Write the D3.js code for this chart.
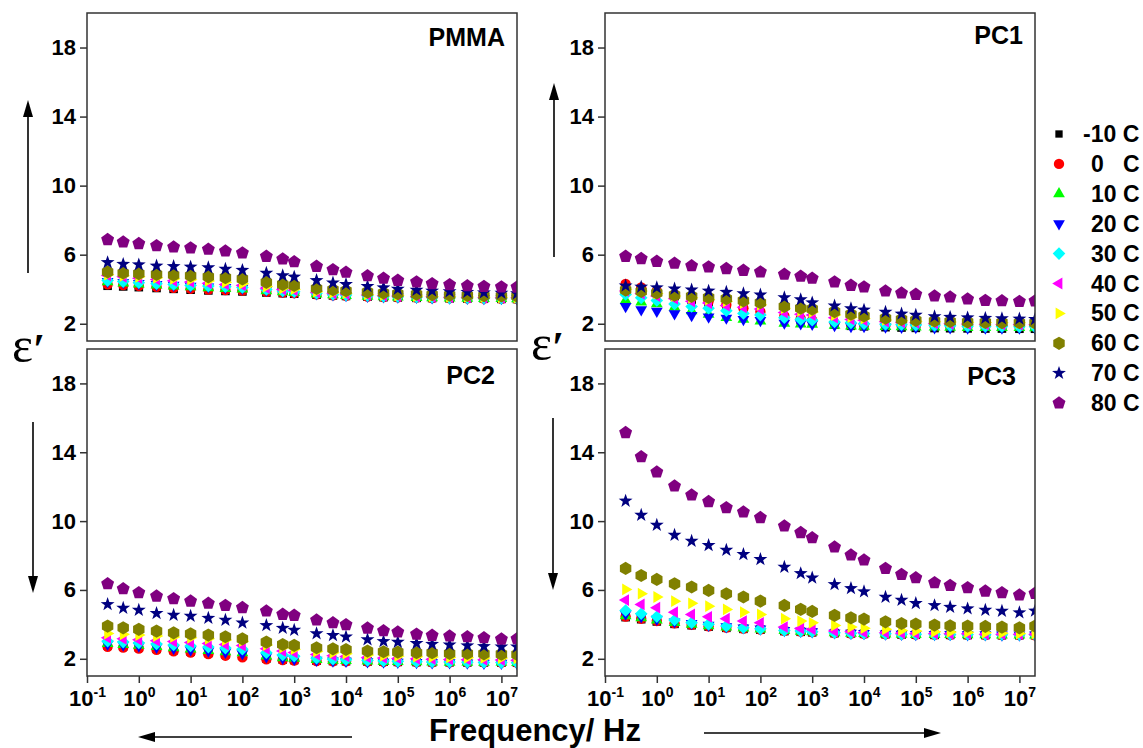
<!DOCTYPE html>
<html>
<head>
<meta charset="utf-8">
<script src="https://cdn.jsdelivr.net/npm/d3@7"></script>
<style>
  body { margin: 0; background: #fff; }
  svg { font-family: "Liberation Sans", Arial, sans-serif; font-weight: bold; }
</style>
</head>
<body>
<svg width="1143" height="748"></svg>
<script>
// frequencies (Hz) of the measured points
var freq = [0.25, 0.5, 1, 2.2, 4.7, 10, 22, 47, 100, 290, 600, 1000, 2700, 5600, 1e4,
            2.6e4, 5.3e4, 1e5, 2.3e5, 4.6e5, 1e6, 2.2e6, 4.6e6, 1e7, 2e7];
var temps = ["-10 C", "0   C", "10 C", "20 C", "30 C", "40 C", "50 C", "60 C", "70 C", "80 C"];
var colors = ["#000000", "#ff0000", "#00ff00", "#0000ff", "#00ffff", "#ff00ff", "#ffff00", "#808000", "#000080", "#800080"];
var shapes = ["square", "circle", "triUp", "triDown", "diamond", "triLeft", "triRight", "hexagon", "star", "pentagon"];
var yTicks = [2, 6, 10, 14, 18];
var xExp = [-1, 0, 1, 2, 3, 4, 5, 6, 7];

// eps' values, one row per temperature (-10 ... 80 C)
var pmma = [
  [4.20,4.16,4.12,4.07,4.02,3.97,3.93,3.90,3.87,3.81,3.77,3.74,3.68,3.64,3.61,3.57,3.54,3.52,3.50,3.49,3.47,3.46,3.45,3.44,3.43],
  [4.28,4.24,4.19,4.14,4.08,4.03,3.98,3.95,3.92,3.85,3.80,3.77,3.70,3.65,3.62,3.58,3.55,3.53,3.51,3.49,3.48,3.47,3.46,3.45,3.44],
  [4.42,4.36,4.30,4.24,4.18,4.13,4.08,4.04,4.00,3.91,3.85,3.81,3.72,3.67,3.63,3.59,3.56,3.54,3.52,3.50,3.48,3.47,3.46,3.45,3.44],
  [4.45,4.40,4.34,4.28,4.23,4.18,4.14,4.10,4.06,3.95,3.88,3.84,3.74,3.68,3.64,3.60,3.57,3.55,3.53,3.51,3.49,3.48,3.47,3.46,3.45],
  [4.50,4.44,4.38,4.32,4.27,4.22,4.18,4.14,4.10,3.98,3.90,3.86,3.76,3.70,3.66,3.62,3.58,3.56,3.54,3.52,3.50,3.49,3.48,3.47,3.46],
  [4.80,4.72,4.64,4.56,4.49,4.42,4.35,4.28,4.22,4.06,3.98,3.94,3.82,3.76,3.72,3.67,3.63,3.60,3.58,3.56,3.54,3.53,3.52,3.51,3.50],
  [4.84,4.78,4.72,4.66,4.60,4.55,4.48,4.40,4.32,4.15,4.05,4.00,3.86,3.80,3.76,3.70,3.66,3.63,3.60,3.58,3.56,3.55,3.54,3.53,3.52],
  [5.00,4.94,4.90,4.86,4.82,4.78,4.72,4.67,4.60,4.40,4.28,4.22,4.04,3.97,3.91,3.83,3.78,3.74,3.71,3.68,3.66,3.64,3.62,3.61,3.60],
  [5.55,5.45,5.42,5.35,5.32,5.29,5.25,5.17,5.10,4.94,4.79,4.71,4.51,4.37,4.28,4.17,4.09,4.01,3.95,3.90,3.86,3.83,3.80,3.78,3.75],
  [6.87,6.73,6.64,6.52,6.44,6.39,6.31,6.21,6.10,5.90,5.75,5.59,5.32,5.13,4.98,4.78,4.63,4.51,4.42,4.32,4.26,4.20,4.16,4.13,4.12]
];
var pc1 = [
  [4.20,4.00,3.80,3.60,3.40,3.20,3.00,2.80,2.60,2.35,2.20,2.10,1.95,1.88,1.85,1.80,1.78,1.76,1.75,1.74,1.73,1.72,1.72,1.71,1.71],
  [4.30,4.10,3.90,3.70,3.50,3.30,3.10,2.90,2.70,2.45,2.30,2.20,2.05,1.98,1.95,1.92,1.90,1.89,1.88,1.87,1.86,1.85,1.85,1.84,1.84],
  [3.35,3.25,3.15,2.95,2.75,2.55,2.35,2.25,2.15,2.02,1.98,1.96,1.90,1.87,1.85,1.83,1.82,1.81,1.80,1.79,1.78,1.78,1.77,1.77,1.76],
  [3.00,2.81,2.73,2.58,2.48,2.39,2.33,2.25,2.19,2.04,2.00,1.98,1.90,1.85,1.84,1.81,1.80,1.79,1.77,1.77,1.76,1.76,1.75,1.75,1.75],
  [3.70,3.50,3.35,3.15,3.00,2.90,2.75,2.60,2.50,2.35,2.25,2.20,2.10,2.05,2.00,1.96,1.94,1.92,1.90,1.88,1.86,1.85,1.84,1.83,1.82],
  [3.90,3.75,3.60,3.45,3.30,3.20,3.05,2.95,2.85,2.65,2.55,2.50,2.35,2.25,2.20,2.12,2.08,2.05,2.02,2.00,1.98,1.97,1.96,1.95,1.94],
  [4.00,3.90,3.75,3.60,3.50,3.40,3.30,3.20,3.10,2.90,2.75,2.68,2.50,2.38,2.30,2.22,2.18,2.15,2.12,2.10,2.08,2.07,2.06,2.05,2.04],
  [3.95,3.87,3.78,3.66,3.59,3.52,3.45,3.33,3.22,3.00,2.90,2.85,2.70,2.55,2.45,2.32,2.25,2.20,2.16,2.13,2.10,2.08,2.07,2.06,2.05],
  [4.20,4.13,4.09,4.02,3.97,3.90,3.83,3.75,3.68,3.52,3.40,3.22,3.04,2.88,2.80,2.68,2.57,2.50,2.42,2.38,2.35,2.32,2.30,2.28,2.26],
  [5.90,5.77,5.61,5.50,5.36,5.29,5.19,5.09,5.00,4.86,4.75,4.63,4.42,4.22,4.13,3.89,3.78,3.70,3.60,3.55,3.43,3.35,3.33,3.29,3.32]
];
var pc2 = [
  [2.77,2.72,2.66,2.58,2.50,2.42,2.34,2.26,2.18,2.02,1.96,1.93,1.89,1.87,1.86,1.84,1.83,1.82,1.81,1.80,1.80,1.79,1.79,1.78,1.78],
  [2.70,2.65,2.60,2.52,2.44,2.36,2.27,2.18,2.08,1.97,1.93,1.90,1.87,1.86,1.85,1.84,1.83,1.82,1.81,1.80,1.80,1.79,1.79,1.78,1.78],
  [2.88,2.83,2.78,2.71,2.64,2.56,2.48,2.41,2.34,2.15,2.06,2.02,1.95,1.91,1.89,1.86,1.84,1.83,1.82,1.81,1.80,1.80,1.79,1.79,1.78],
  [2.85,2.80,2.75,2.68,2.60,2.52,2.45,2.38,2.30,2.12,2.03,1.98,1.92,1.88,1.86,1.83,1.81,1.80,1.79,1.78,1.77,1.76,1.75,1.74,1.73],
  [3.02,2.97,2.92,2.86,2.80,2.74,2.68,2.62,2.56,2.35,2.22,2.15,2.03,1.98,1.95,1.90,1.87,1.85,1.83,1.82,1.81,1.80,1.79,1.78,1.77],
  [3.22,3.16,3.10,3.05,3.00,2.95,2.89,2.83,2.77,2.58,2.45,2.36,2.25,2.18,2.14,2.08,2.05,2.02,2.00,1.98,1.96,1.95,1.94,1.93,1.92],
  [3.47,3.42,3.38,3.32,3.27,3.22,3.16,3.09,3.02,2.80,2.65,2.56,2.42,2.35,2.30,2.22,2.18,2.15,2.12,2.10,2.08,2.06,2.05,2.04,2.03],
  [3.90,3.80,3.71,3.61,3.51,3.45,3.38,3.28,3.16,2.97,2.83,2.78,2.64,2.58,2.54,2.45,2.41,2.39,2.35,2.35,2.31,2.31,2.29,2.27,2.25],
  [5.16,4.95,4.83,4.64,4.54,4.48,4.36,4.25,4.09,3.94,3.78,3.67,3.47,3.36,3.28,3.12,3.01,2.97,2.90,2.85,2.81,2.76,2.72,2.70,2.70],
  [6.36,6.07,5.84,5.64,5.49,5.35,5.22,5.10,4.97,4.77,4.58,4.52,4.25,4.09,3.98,3.78,3.63,3.55,3.43,3.36,3.32,3.28,3.22,3.14,3.16]
];
var pc3 = [
  [4.42,4.30,4.17,4.03,3.95,3.87,3.80,3.74,3.69,3.61,3.57,3.54,3.49,3.47,3.45,3.43,3.41,3.40,3.39,3.39,3.38,3.38,3.37,3.37,3.37],
  [4.45,4.33,4.20,4.06,3.97,3.89,3.82,3.76,3.70,3.62,3.58,3.55,3.50,3.47,3.45,3.43,3.42,3.41,3.40,3.39,3.39,3.38,3.38,3.38,3.37],
  [4.50,4.38,4.25,4.10,4.00,3.92,3.84,3.78,3.72,3.64,3.59,3.56,3.50,3.48,3.46,3.44,3.42,3.41,3.40,3.40,3.39,3.39,3.38,3.38,3.38],
  [4.60,4.45,4.30,4.15,4.05,3.95,3.87,3.80,3.74,3.65,3.60,3.57,3.51,3.49,3.47,3.45,3.43,3.42,3.41,3.41,3.40,3.40,3.39,3.39,3.39],
  [4.81,4.62,4.44,4.25,4.09,4.00,3.90,3.80,3.74,3.65,3.61,3.57,3.51,3.49,3.47,3.45,3.43,3.43,3.41,3.41,3.41,3.40,3.40,3.40,3.40],
  [5.41,5.16,4.97,4.71,4.58,4.44,4.33,4.19,4.09,3.84,3.76,3.71,3.61,3.57,3.53,3.51,3.49,3.47,3.47,3.45,3.45,3.43,3.43,3.43,3.43],
  [6.03,5.78,5.59,5.35,5.22,5.06,4.87,4.71,4.58,4.33,4.19,4.09,3.94,3.84,3.78,3.71,3.65,3.61,3.57,3.55,3.53,3.51,3.49,3.47,3.47],
  [7.25,6.84,6.61,6.36,6.17,5.97,5.78,5.59,5.35,5.10,4.87,4.75,4.52,4.38,4.31,4.15,4.05,4.02,3.96,3.92,3.90,3.88,3.84,3.80,3.90],
  [11.17,10.35,9.77,9.19,8.84,8.59,8.32,8.07,7.78,7.33,6.96,6.71,6.32,6.09,5.90,5.59,5.41,5.22,5.10,5.00,4.91,4.83,4.77,4.68,4.78],
  [15.14,13.74,12.85,12.04,11.51,11.13,10.78,10.53,10.20,9.71,9.33,9.03,8.49,8.03,7.74,7.25,6.90,6.71,6.42,6.26,6.13,5.93,5.84,5.70,5.80]
];

var panels = [
  { name: "PMMA", data: pmma, x0: 87,  x1: 517,  y0: 13,  y1: 341, xlab: false, tdx: 12, tdy: 33 },
  { name: "PC1",  data: pc1,  x0: 605, x1: 1035, y0: 13,  y1: 341, xlab: false, tdx: 12, tdy: 31 },
  { name: "PC2",  data: pc2,  x0: 87,  x1: 517,  y0: 349, y1: 676, xlab: true,  tdx: 22, tdy: 35 },
  { name: "PC3",  data: pc3,  x0: 605, x1: 1035, y0: 349, y1: 676, xlab: true,  tdx: 19, tdy: 36 }
];

function poly(n, r, rot) {
  var p = [];
  for (var i = 0; i < n; i++) {
    var a = rot + i * 2 * Math.PI / n;
    p.push([r * Math.cos(a), r * Math.sin(a)]);
  }
  return "M" + p.map(function(d) { return d[0].toFixed(2) + "," + d[1].toFixed(2); }).join("L") + "Z";
}
function symbolPath(type) {
  var up = -Math.PI / 2;
  if (type == "square") return "M-4.3,-4.3h8.6v8.6h-8.6Z";
  if (type == "circle") return "M-5.2,0a5.2,5.2 0 1,0 10.4,0a5.2,5.2 0 1,0 -10.4,0Z";
  if (type == "triUp") return poly(3, 6.8, up);
  if (type == "triDown") return poly(3, 6.8, -up);
  if (type == "triLeft") return poly(3, 6.8, Math.PI);
  if (type == "triRight") return poly(3, 6.8, 0);
  if (type == "diamond") return poly(4, 6.3, up);
  if (type == "hexagon") return poly(6, 6.6, up);
  if (type == "pentagon") return poly(5, 6.8, up);
  if (type == "star") {
    var p = [];
    for (var i = 0; i < 10; i++) {
      var r = i % 2 ? 2.9 : 7.3, a = up + i * Math.PI / 5;
      p.push((r * Math.cos(a)).toFixed(2) + "," + (r * Math.sin(a)).toFixed(2));
    }
    return "M" + p.join("L") + "Z";
  }
}

var svg = d3.select("svg");

panels.forEach(function(p, pi) {
  var x = d3.scaleLog().domain([0.1, 2e7]).range([p.x0, p.x1]);
  var y = d3.scaleLinear().domain([1, 20]).range([p.y1, p.y0]);
  var g = svg.append("g");

  g.append("clipPath").attr("id", "clip" + pi)
    .append("rect").attr("x", p.x0).attr("y", p.y0)
    .attr("width", p.x1 - p.x0).attr("height", p.y1 - p.y0);

  // y axis
  var ya = g.append("g").attr("transform", "translate(" + p.x0 + ",0)")
    .call(d3.axisLeft(y).tickValues(yTicks).tickSize(7).tickPadding(4));
  ya.select(".domain").remove();
  ya.selectAll(".tick line").attr("stroke", "#333").attr("stroke-width", 1.5);
  ya.selectAll(".tick text").attr("font-size", 22).attr("font-weight", "bold")
    .attr("font-family", "Liberation Sans, Arial, sans-serif").attr("fill", "#000");

  // x axis
  var xa = g.append("g").attr("transform", "translate(0," + p.y1 + ")")
    .call(d3.axisBottom(x).tickValues(xExp.map(function(e) { return Math.pow(10, e); }))
      .tickSize(p.xlab ? 7 : 0).tickFormat(""));
  xa.select(".domain").remove();
  xa.selectAll(".tick line").attr("stroke", "#333").attr("stroke-width", 1.5);
  if (p.xlab) {
    var t = xa.selectAll(".tick").append("text")
      .attr("y", 30).attr("text-anchor", "middle").attr("fill", "#000")
      .attr("font-family", "Liberation Sans, Arial, sans-serif").attr("font-weight", "bold");
    t.append("tspan").attr("font-size", 22).text("10");
    t.append("tspan").attr("font-size", 14).attr("dy", -9)
      .text(function(d) { return Math.round(Math.log10(d)); });
  }

  // points
  var pts = g.append("g").attr("clip-path", "url(#clip" + pi + ")");
  p.data.forEach(function(row, si) {
    pts.selectAll(".s" + si).data(row).enter().append("path")
      .attr("class", "s" + si)
      .attr("d", symbolPath(shapes[si]))
      .attr("fill", colors[si])
      .attr("transform", function(d, i) { return "translate(" + x(freq[i]) + "," + y(d) + ")"; });
  });

  // frame
  g.append("rect").attr("x", p.x0).attr("y", p.y0)
    .attr("width", p.x1 - p.x0).attr("height", p.y1 - p.y0)
    .attr("fill", "none").attr("stroke", "#333").attr("stroke-width", 1.5);

  g.append("text").attr("x", p.x1 - p.tdx).attr("y", p.y0 + p.tdy)
    .attr("text-anchor", "end").attr("font-size", 25).text(p.name);
});

// legend
var leg = svg.append("g");
temps.forEach(function(tname, i) {
  var cy = 134 + i * 29.9;
  leg.append("path").attr("d", symbolPath(shapes[i])).attr("fill", colors[i])
    .attr("transform", "translate(1059," + cy + ")" + (i == 0 ? " scale(0.85)" : ""));
  leg.append("text").attr("x", i == 0 ? 1083 : 1091).attr("y", cy + 8)
    .attr("font-size", 23).style("white-space", "pre").text(tname);
});

// epsilon' labels
[[12, 362], [531, 360]].forEach(function(pos) {
  var e = svg.append("text").attr("x", pos[0]).attr("y", pos[1])
    .attr("font-family", "Liberation Serif, Times New Roman, serif").attr("font-weight", "normal")
    .attr("font-size", 50);
  e.append("tspan").text("\u03b5");
  e.append("tspan").attr("font-size", 44).attr("font-weight", "bold").attr("dy", 2).text("\u2032");
});

// axis title
svg.append("text").attr("x", 535).attr("y", 741).attr("text-anchor", "middle")
  .attr("font-size", 31).text("Frequency/ Hz");

// arrows
function arrow(xa, ya, xb, yb) {
  var ang = Math.atan2(yb - ya, xb - xa), L = 17, W = 5;
  var bx = xb - L * Math.cos(ang), by = yb - L * Math.sin(ang);
  svg.append("line").attr("x1", xa).attr("y1", ya).attr("x2", bx).attr("y2", by)
    .attr("stroke", "#000").attr("stroke-width", 1.6);
  svg.append("path").attr("fill", "#000").attr("d",
    "M" + xb + "," + yb +
    "L" + (bx + W * Math.sin(ang)) + "," + (by - W * Math.cos(ang)) +
    "L" + (bx - W * Math.sin(ang)) + "," + (by + W * Math.cos(ang)) + "Z");
}
arrow(28, 273, 28, 100);
arrow(554, 257, 554, 83);
arrow(33, 422, 33, 593);
arrow(553, 418, 553, 590);
arrow(352, 737, 138, 737);
arrow(704, 733, 941, 733);
</script>
</body>
</html>
